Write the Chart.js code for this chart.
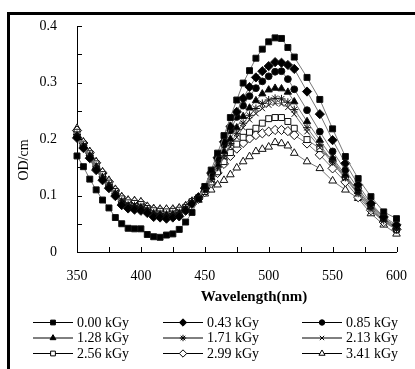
<!DOCTYPE html>
<html lang="en">
<head>
  <meta charset="UTF-8" />
  <title>OD spectra</title>
  <script src="https://cdn.jsdelivr.net/npm/chart.js"></script>
  <style>
    html, body { margin: 0; padding: 0; background: #fff; }
    #wrap { width: 415px; height: 369px; position: relative; }
  </style>
</head>
<body>
  <div id="wrap"><canvas id="odChart"></canvas></div>

  <script>
    // wavelength (nm): 5 nm steps up to 520, then 10 nm steps
    const wavelengths = [350,355,360,365,370,375,380,385,390,395,400,405,410,415,420,425,430,435,440,
      445,450,455,460,465,470,475,480,485,490,495,500,505,510,515,520,530,540,550,560,570,580,590,600];

    const od000 = [0.170,0.151,0.129,0.110,0.092,0.078,0.061,0.050,0.042,0.041,0.041,0.031,0.027,0.026,0.030,0.032,0.040,0.053,0.070,
      0.094,0.116,0.145,0.175,0.206,0.238,0.269,0.299,0.321,0.343,0.359,0.372,0.379,0.378,0.362,0.345,0.309,0.270,0.218,0.169,0.130,0.098,0.071,0.059];
    const od043 = [0.202,0.184,0.166,0.145,0.127,0.113,0.099,0.083,0.077,0.075,0.073,0.069,0.062,0.061,0.059,0.061,0.063,0.073,0.085,
      0.097,0.113,0.140,0.167,0.195,0.222,0.248,0.272,0.292,0.309,0.320,0.329,0.336,0.335,0.331,0.324,0.284,0.244,0.198,0.157,0.119,0.086,0.062,0.048];
    const od085 = [0.204,0.186,0.168,0.148,0.129,0.115,0.101,0.086,0.079,0.077,0.075,0.071,0.064,0.063,0.062,0.063,0.065,0.075,0.086,
      0.097,0.112,0.137,0.163,0.190,0.215,0.239,0.259,0.276,0.290,0.302,0.311,0.319,0.320,0.306,0.288,0.251,0.213,0.178,0.145,0.112,0.083,0.060,0.045];
    const od128 = [0.206,0.187,0.170,0.150,0.131,0.117,0.103,0.088,0.081,0.080,0.078,0.073,0.067,0.066,0.065,0.066,0.068,0.076,0.087,
      0.096,0.110,0.132,0.155,0.178,0.200,0.220,0.240,0.255,0.268,0.280,0.287,0.290,0.289,0.283,0.266,0.231,0.198,0.166,0.137,0.107,0.080,0.058,0.043];
    const od171 = [0.208,0.188,0.171,0.152,0.133,0.119,0.104,0.090,0.083,0.082,0.080,0.074,0.069,0.068,0.067,0.068,0.070,0.077,0.088,
      0.096,0.109,0.129,0.150,0.171,0.192,0.210,0.228,0.242,0.254,0.263,0.269,0.272,0.271,0.265,0.252,0.220,0.190,0.160,0.132,0.104,0.077,0.056,0.041];
    const od213 = [0.210,0.189,0.172,0.154,0.135,0.120,0.105,0.092,0.085,0.084,0.082,0.076,0.071,0.070,0.069,0.070,0.072,0.078,0.088,
      0.096,0.108,0.127,0.147,0.167,0.186,0.203,0.220,0.234,0.245,0.254,0.260,0.263,0.262,0.256,0.244,0.213,0.185,0.157,0.130,0.102,0.075,0.055,0.040];
    const od256 = [0.212,0.191,0.174,0.156,0.137,0.122,0.107,0.094,0.087,0.086,0.084,0.077,0.073,0.072,0.071,0.072,0.074,0.079,0.089,
      0.095,0.107,0.124,0.142,0.160,0.176,0.191,0.203,0.212,0.219,0.228,0.236,0.238,0.238,0.231,0.219,0.199,0.183,0.163,0.133,0.108,0.081,0.061,0.040];
    const od299 = [0.215,0.193,0.176,0.158,0.140,0.124,0.109,0.096,0.090,0.089,0.087,0.079,0.075,0.074,0.074,0.074,0.076,0.080,0.089,
      0.094,0.106,0.122,0.140,0.156,0.170,0.183,0.193,0.201,0.207,0.210,0.213,0.216,0.216,0.214,0.207,0.192,0.172,0.148,0.124,0.097,0.074,0.053,0.040];
    const od341 = [0.219,0.195,0.178,0.160,0.142,0.127,0.111,0.098,0.092,0.091,0.089,0.081,0.077,0.076,0.076,0.076,0.078,0.082,0.090,
      0.092,0.103,0.110,0.119,0.127,0.137,0.149,0.160,0.169,0.178,0.182,0.186,0.194,0.192,0.188,0.175,0.160,0.148,0.126,0.110,0.095,0.068,0.048,0.032];

    const doseLabels = ['0.00 kGy','0.43 kGy','0.85 kGy','1.28 kGy','1.71 kGy','2.13 kGy','2.56 kGy','2.99 kGy','3.41 kGy'];
    const xTickStep = 50, xMinorStep = 25;
    const yTickStep = 0.1, yMinorStep = 0.05;

    // marker look per series
    const markers = [
      { style: 'rect',     r: 4.2, fill: '#000' },
      { style: 'rectRot',  r: 4.6, fill: '#000' },
      { style: 'circle',   r: 3.4, fill: '#000' },
      { style: 'triangle', r: 4.2, fill: '#000' },
      { style: 'star',     r: 4,   fill: '#000' },
      { style: 'crossRot', r: 3.8, fill: '#000' },
      { style: 'rect',     r: 4.2, fill: '#fff' },
      { style: 'rectRot',  r: 4.6, fill: '#fff' },
      { style: 'triangle', r: 4.4, fill: '#fff' }
    ];
    const series = [od000, od043, od085, od128, od171, od213, od256, od299, od341];

    const serif = '"Liberation Serif", "Times New Roman", serif';

    const datasets = series.map((vals, i) => ({
      label: doseLabels[i],
      data: wavelengths.map((w, j) => ({ x: w, y: vals[j] })),
      borderColor: '#777',
      borderWidth: 1,
      pointStyle: markers[i].style,
      pointRadius: markers[i].r,
      pointBackgroundColor: markers[i].fill,
      pointBorderColor: '#111',
      pointBorderWidth: 1,
      tension: 0,
      clip: false
    }));

    // frame, inward ticks, axis titles and 3x3 legend
    const decor = {
      id: 'decor',
      afterDraw(chart) {
        const ctx = chart.ctx;
        const xs = chart.scales.x, ys = chart.scales.y;
        const a = chart.chartArea;
        ctx.save();

        // black frame (top and left)
        ctx.strokeStyle = '#000';
        ctx.lineWidth = 3;
        ctx.beginPath();
        ctx.moveTo(8.5, 369);
        ctx.lineTo(8.5, 13.5);
        ctx.lineTo(415, 13.5);
        ctx.stroke();

        // ticks pointing into the plot
        ctx.lineWidth = 1;
        ctx.beginPath();
        for (let v = ys.min; v <= ys.max + 1e-9; v += yMinorStep) {
          const py = Math.round(ys.getPixelForValue(v)) + 0.5;
          ctx.moveTo(a.left, py);
          ctx.lineTo(a.left + 5, py);
        }
        for (let v = xs.min; v <= xs.max; v += xMinorStep) {
          const px = Math.round(xs.getPixelForValue(v)) + 0.5;
          ctx.moveTo(px, a.bottom);
          ctx.lineTo(px, a.bottom - 5);
        }
        ctx.stroke();

        // axis titles
        ctx.fillStyle = '#000';
        ctx.textAlign = 'center';
        ctx.textBaseline = 'middle';
        ctx.font = 'bold 15px ' + serif;
        ctx.fillText('Wavelength(nm)', 254, 297);
        ctx.save();
        ctx.translate(24, 160);
        ctx.rotate(-Math.PI / 2);
        ctx.font = '14px ' + serif;
        ctx.fillText('OD/cm', 0, 0);
        ctx.restore();

        // legend, 3 columns
        const colX = [33, 163, 302];
        const rowY = [322, 337.5, 353];
        ctx.font = '14px ' + serif;
        ctx.textAlign = 'left';
        chart.data.datasets.forEach((ds, i) => {
          const x0 = colX[i % 3], y0 = rowY[Math.floor(i / 3)];
          ctx.strokeStyle = '#000';
          ctx.lineWidth = 1;
          ctx.beginPath();
          ctx.moveTo(x0, y0 + 0.5);
          ctx.lineTo(x0 + 40, y0 + 0.5);
          ctx.stroke();
          ctx.fillStyle = markers[i].fill;
          ctx.strokeStyle = '#000';
          Chart.helpers.drawPoint(ctx, {
            pointStyle: ds.pointStyle,
            radius: ds.pointRadius * 0.8,
            rotation: 0,
            borderWidth: 1
          }, x0 + 20, y0 + 0.5);
          ctx.fillStyle = '#000';
          ctx.fillText(ds.label, x0 + 44, y0 + 1);
        });
        ctx.restore();
      }
    };

    new Chart(document.getElementById('odChart'), {
      type: 'line',
      data: { datasets },
      options: {
        responsive: true,
        maintainAspectRatio: false,
        animation: false,
        layout: { padding: { left: 0, top: 26, right: 18, bottom: 0 } },
        plugins: { legend: { display: false }, tooltip: { enabled: false } },
        scales: {
          x: {
            type: 'linear',
            min: 350,
            max: 600,
            afterFit(scale) { scale.height = 117; },
            grid: { display: false },
            border: { display: true, color: '#000', width: 1 },
            ticks: {
              stepSize: xTickStep,
              padding: 8,
              color: '#000',
              font: { family: serif, size: 14 }
            }
          },
          y: {
            min: 0,
            max: 0.4,
            afterFit(scale) { scale.width = 77; },
            grid: { display: false },
            border: { display: true, color: '#000', width: 1 },
            ticks: {
              stepSize: yTickStep,
              padding: 12,
              color: '#000',
              font: { family: serif, size: 14 },
              callback: v => Math.round(v * 10) / 10
            }
          }
        }
      },
      plugins: [decor]
    });
  </script>
</body>
</html>
